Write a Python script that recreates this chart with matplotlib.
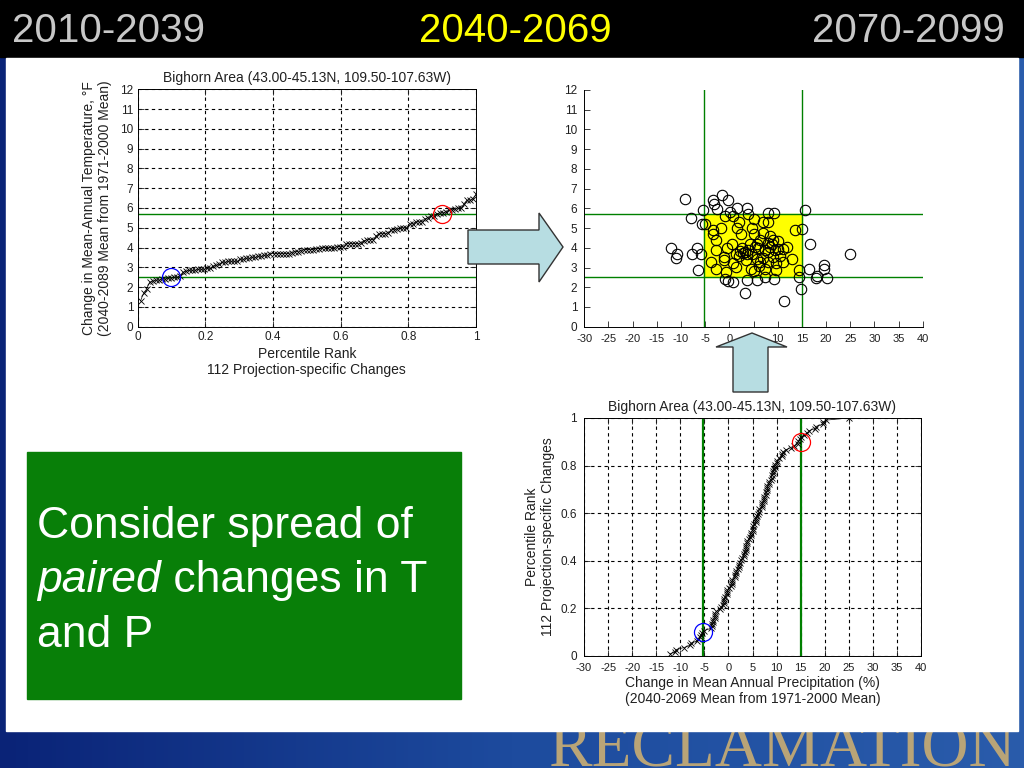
import numpy as np
import matplotlib
matplotlib.use("Agg")
import matplotlib.pyplot as plt
from matplotlib.patches import Rectangle, Polygon
from matplotlib.colors import LinearSegmentedColormap

plt.rcParams['font.family'] = ['Liberation Sans', 'DejaVu Sans']
plt.rcParams['axes.unicode_minus'] = False

# paired changes (precip %, temp F), 112 projections
precip = [-9.2, -3.45, -3.2, -1.6, -0.2, -2.5, -5.5, 0.1, 1.5, 3.7, 3.8, 7.9, 9.3, 15.7,
          -8.0, -5.6, -5.0, -0.9, 0.7, 2.1, 5.0, 7.0, 8.1, -1.8, -3.3, -3.45, 1.65, 4.6,
          13.6, 15.1, -2.8, 2.35, 5.0, 7.0, 8.4, 9.0, 10.1, 7.9, 16.7, -12.1, -10.9, -11.1,
          -7.8, -6.6, -5.9, -2.8, -1.1, -1.0, 0.8, 1.9, 2.55, 3.25, 3.9, 4.6, 6.0, 7.4,
          8.4, 9.4, 10.5, 11.9, 7.0, 9.0, 12.9, 25.0, -3.7, -2.85, -6.4, -0.7, 4.4, 5.1,
          6.2, 6.3, 7.4, 9.6, 9.6, 14.5, 16.4, 19.6, 19.6, 18.1, 17.9, 20.3, 14.5, 7.4,
          9.2, 3.7, -0.9, -0.2, 0.8, 14.8, 3.2, 11.3, 5.7, 1.4, 2.2, 2.9, 3.6, 5.3,
          6.3, 5.7, 8.1, 8.8, 4.3, 0.5, -0.4, 10.1, 11.2, 5.7, 1.4, 3.4, 8.1, 11.2]
temp = [6.45, 6.4, 6.2, 6.7, 6.4, 5.95, 5.9, 5.8, 6.0, 6.0, 5.7, 5.75, 5.75, 5.9,
        5.5, 5.2, 5.2, 5.6, 5.6, 5.3, 5.45, 5.3, 5.3, 5.0, 4.9, 4.7, 5.0, 5.0,
        4.9, 4.95, 4.4, 4.7, 4.7, 4.75, 4.6, 4.4, 4.35, 4.25, 4.2, 4.0, 3.7, 3.5,
        3.7, 4.0, 3.7, 3.9, 3.55, 3.4, 3.25, 3.6, 4.0, 3.8, 3.9, 3.7, 4.0, 3.9,
        4.05, 3.9, 3.6, 4.05, 3.5, 3.55, 3.45, 3.7, 3.3, 2.9, 2.85, 2.75, 2.95, 2.8,
        3.1, 3.3, 2.95, 3.25, 2.85, 2.85, 2.9, 3.15, 2.9, 2.55, 2.45, 2.45, 2.5, 2.5,
        2.4, 2.35, 2.4, 2.3, 2.25, 1.9, 1.7, 1.3, 2.35, 3.7, 3.85, 3.75, 3.7, 4.05,
        4.4, 4.2, 3.8, 4.2, 4.2, 4.2, 4.0, 3.95, 3.95, 3.45, 3.05, 3.4, 3.3, 3.3]

# 10th / 90th percentile values shown by the green lines
t_lo, t_hi = 2.5, 5.7
p_lo, p_hi = -5.3, 15.0

periods = ['2010-2039', '2040-2069', '2070-2099']
title = 'Bighorn Area (43.00-45.13N, 109.50-107.63W)'

W, H = 1024, 768


def px(l, t, r, b):
    return [l / W, 1 - b / H, (r - l) / W, (b - t) / H]


fig = plt.figure(figsize=(10.24, 7.68), dpi=100)

# slide background
bg = fig.add_axes([0, 0, 1, 1], zorder=-10)
bg.set_xlim(0, W)
bg.set_ylim(H, 0)
bg.axis('off')
cmap = LinearSegmentedColormap.from_list('slide', ['#0a2377', '#1d4b9e', '#2a5cab'])
bg.imshow(np.linspace(0, 1, 256)[None, :], cmap=cmap, extent=[0, W, H, 0],
          aspect='auto', zorder=0)
bg.text(548, 766, 'RECLAMATION', family=['Liberation Serif', 'DejaVu Serif'],
        fontsize=47, color='#b9a477', va='baseline', ha='left', zorder=0.5)
bg.add_patch(Rectangle((0, 0), W, 57, color='black', zorder=1))
bg.add_patch(Rectangle((6, 58), 1012, 673, color='white', zorder=1))
bg.add_patch(Rectangle((27, 452), 434, 247, color='#087f08', zorder=2))

hfam = ['Liberation Sans Narrow', 'Liberation Sans', 'DejaVu Sans']
hkw = dict(fontsize=29, family=hfam, va='center', zorder=3)
bg.text(12, 31, periods[0], color='#c8c8c8', ha='left', **hkw)
bg.text(515, 31, periods[1], color='#ffff00', ha='center', **hkw)
bg.text(1005, 31, periods[2], color='#c8c8c8', ha='right', **hkw)

tkw = dict(color='white', fontsize=32, va='baseline', ha='left', zorder=3)
bg.text(37, 538, 'Consider spread of', **tkw)
it = bg.text(37, 592, 'paired', style='italic', **tkw)
bb = it.get_window_extent(fig.canvas.get_renderer())
bg.text(bb.x1, 592, ' changes in T', **tkw)
bg.text(37, 647, 'and P', **tkw)

n = len(temp)
rank = np.arange(1, n + 1) / n
t_sorted = np.sort(temp)
p_sorted = np.sort(precip)

gridkw = dict(color='black', linestyle=(0, (3, 3)), linewidth=0.8)
lab = dict(fontsize=10, color='#202020')

# top-left: temperature change vs percentile rank
ax1 = fig.add_axes(px(137.5, 89.3, 476, 326.7))
ax1.axhline(t_lo, color='green', lw=1, zorder=2)
ax1.axhline(t_hi, color='green', lw=1, zorder=2)
ax1.plot(rank, t_sorted, '-x', color='black', lw=0.5, ms=4, mew=0.6, zorder=3)
ax1.plot([0.1], [t_lo], 'o', mfc='none', mec='blue', ms=13, mew=0.9, zorder=4)
ax1.plot([0.9], [t_hi], 'o', mfc='none', mec='red', ms=13, mew=0.9, zorder=4)
ax1.set_xlim(0, 1)
ax1.set_ylim(0, 12)
ax1.set_xticks(np.arange(0, 1.01, 0.2))
ax1.set_xticklabels(['0', '0.2', '0.4', '0.6', '0.8', '1'])
ax1.set_yticks(range(0, 13))
ax1.grid(True, **gridkw)
ax1.set_title(title, pad=5, **lab)
ax1.set_xlabel('Percentile Rank\n112 Projection-specific Changes', labelpad=3, **lab)
ax1.set_ylabel('Change in Mean-Annual Temperature, \u00b0F\n(2040-2089 Mean from 1971-2000 Mean)',
               labelpad=6, **lab)

# top-right: paired scatter
ax2 = fig.add_axes(px(584.3, 90, 922.7, 326.7))
ax2.add_patch(Rectangle((p_lo, t_lo), p_hi - p_lo, t_hi - t_lo, color='#ffff00', zorder=1))
ax2.axhline(t_lo, color='green', lw=1, zorder=2)
ax2.axhline(t_hi, color='green', lw=1, zorder=2)
ax2.axvline(p_lo, color='green', lw=1, zorder=2)
ax2.axvline(p_hi, color='green', lw=1, zorder=2)
ax2.plot(precip, temp, 'o', mfc='none', mec='black', ms=7.5, mew=0.8, zorder=3)
ax2.set_xlim(-30, 40)
ax2.set_ylim(0, 12)
ax2.set_xticks(range(-30, 41, 5))
ax2.set_yticks(range(0, 13))
ax2.spines['top'].set_visible(False)
ax2.spines['right'].set_visible(False)

# bottom-right: precipitation change percentile rank
ax3 = fig.add_axes(px(584, 418, 921, 656))
ax3.axvline(p_lo, color='green', lw=1.6, zorder=2)
ax3.axvline(p_hi, color='green', lw=1.6, zorder=2)
ax3.plot(p_sorted, rank, '-x', color='black', lw=0.5, ms=4, mew=0.6, zorder=3)
ax3.plot([p_lo], [0.1], 'o', mfc='none', mec='blue', ms=13, mew=0.9, zorder=4)
ax3.plot([p_hi], [0.9], 'o', mfc='none', mec='red', ms=13, mew=0.9, zorder=4)
ax3.set_xlim(-30, 40)
ax3.set_ylim(0, 1)
ax3.set_xticks(range(-30, 41, 5))
ax3.set_yticks(np.arange(0, 1.01, 0.2))
ax3.set_yticklabels(['0', '0.2', '0.4', '0.6', '0.8', '1'])
ax3.grid(True, **gridkw)
ax3.set_title(title, pad=5, **lab)
ax3.set_xlabel('Change in Mean Annual Precipitation (%)\n(2040-2069 Mean from 1971-2000 Mean)',
               labelpad=2, **lab)
ax3.set_ylabel('Percentile Rank\n112 Projection-specific Changes', labelpad=4, **lab)

for ax in (ax1, ax2, ax3):
    ax.tick_params(direction='in', length=4, width=0.6, labelsize=8.5,
                   colors='#202020', pad=3)
    for s in ax.spines.values():
        s.set_linewidth(0.7)
for ax in (ax2, ax3):
    ax.tick_params(axis='x', pad=5, labelsize=8)
    ax.tick_params(axis='y', pad=5)
for ax in (ax1, ax3):
    ax.tick_params(top=True, right=True)

# arrows on top
ov = fig.add_axes([0, 0, 1, 1], zorder=10)
ov.set_xlim(0, W)
ov.set_ylim(H, 0)
ov.axis('off')
ov.patch.set_alpha(0)
arrow_kw = dict(closed=True, facecolor='#b7dde2', edgecolor='#333333', lw=1)
ov.add_patch(Polygon([(468, 230), (539, 230), (539, 213), (563, 247),
                      (539, 282), (539, 264), (468, 264)], **arrow_kw))
ov.add_patch(Polygon([(733, 392), (733, 347), (716, 347), (752, 333),
                      (787, 347), (768, 347), (768, 392)], **arrow_kw))

fig.savefig('out.png', dpi=100)
